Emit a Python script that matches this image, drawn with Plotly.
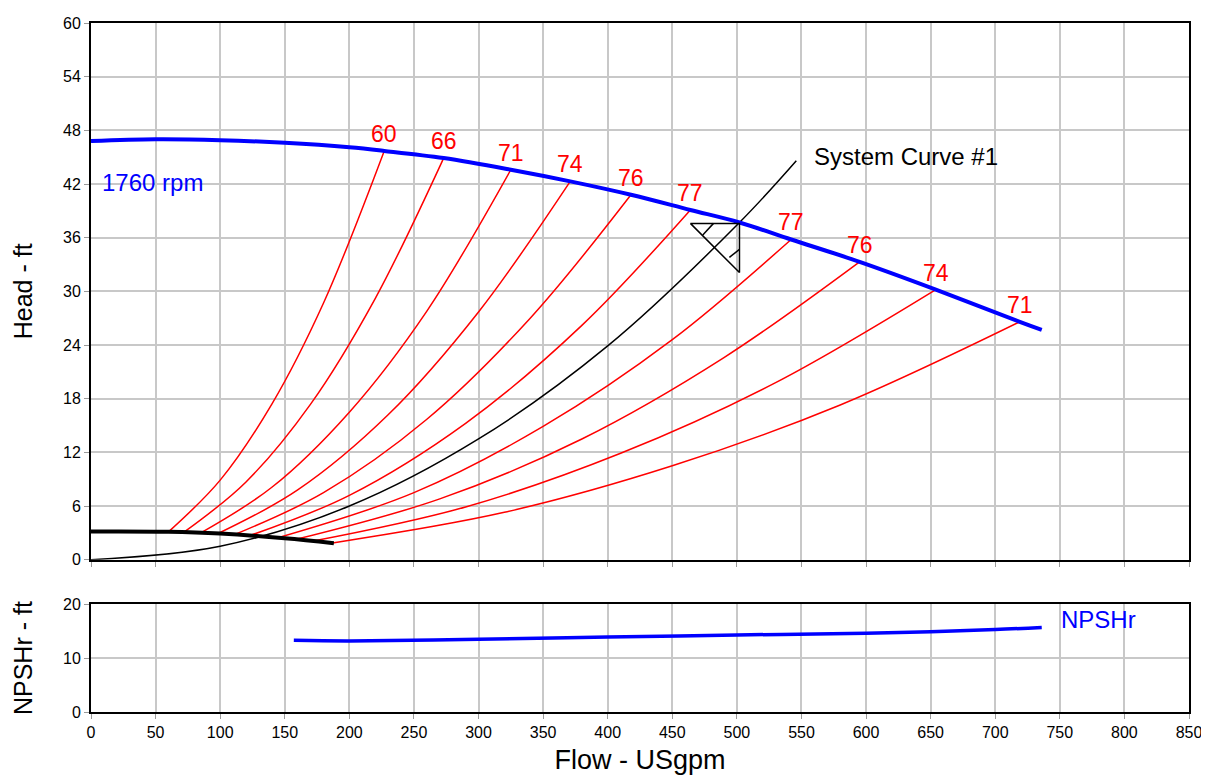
import plotly.graph_objects as go

FONT = "Liberation Sans, Arial, sans-serif"

flow_ticks = list(range(0, 851, 50))
head_ticks = list(range(0, 61, 6))
npsh_ticks = [0, 10, 20]

# Pump head curve at 1760 rpm
pump_q = [0, 50, 100, 150, 200, 227, 273, 325, 371, 418, 464, 502, 542, 595, 654, 719, 736]
pump_h = [46.8, 47.0, 46.9, 46.6, 46.1, 45.7, 44.9, 43.6, 42.3, 40.8, 39.1, 37.7, 35.8, 33.3, 30.2, 26.6, 25.7]

# Lower boundary (thick black)
min_q = [0, 60, 100, 150, 188]
min_h = [3.15, 3.12, 2.92, 2.4, 1.85]

# Iso-efficiency lines (red)
eff_labels = ["60", "66", "71", "74", "76", "77", "77", "76", "74", "71"]
eff_q = [
    [60, 100, 140, 180, 227],
    [72, 120, 170, 220, 273],
    [85, 140, 200, 260, 325],
    [98, 160, 230, 300, 371],
    [111, 180, 260, 340, 418],
    [122, 200, 290, 380, 464],
    [144, 250, 350, 450, 542],
    [158, 270, 380, 490, 595],
    [171, 290, 410, 530, 654],
    [187, 320, 450, 580, 719],
]
eff_h = [
    [3.12, 8.9, 17.4, 28.7, 45.7],
    [3.08, 8.7, 17.4, 29.2, 44.9],
    [3.0, 8.1, 16.5, 27.8, 43.6],
    [2.9, 7.8, 16.2, 27.7, 42.3],
    [2.8, 7.5, 15.7, 27.0, 40.8],
    [2.65, 7.2, 15.25, 26.2, 39.1],
    [2.43, 7.5, 14.9, 24.6, 35.8],
    [2.25, 6.8, 13.5, 22.6, 33.3],
    [2.06, 5.9, 11.9, 19.8, 30.2],
    [1.88, 5.3, 10.5, 17.3, 26.6],
]

# System curve #1
sys_q = [0, 100, 200, 300, 400, 502, 546]
sys_h = [0, 1.5, 6.0, 13.5, 23.9, 37.7, 44.6]

# Operating point marker
op_tri_q = [464, 502, 502, 464]
op_tri_h = [37.6, 37.6, 32.1, 37.6]
op_hatch1_q = [473.6, 481.9]
op_hatch1_h = [36.3, 37.6]
op_hatch2_q = [494.2, 502]
op_hatch2_h = [33.8, 34.7]

# NPSHr
npsh_q = [157, 200, 300, 400, 500, 600, 650, 700, 736]
npsh_h = [13.3, 13.2, 13.5, 13.9, 14.3, 14.6, 14.9, 15.3, 15.7]

fig = go.Figure()

for q, h in zip(eff_q, eff_h):
    fig.add_trace(go.Scatter(x=q, y=h, mode="lines", line=dict(color="#ff0000", width=1.5, shape="spline"),
                             xaxis="x", yaxis="y", showlegend=False, hoverinfo="skip"))

fig.add_trace(go.Scatter(x=sys_q, y=sys_h, mode="lines", line=dict(color="black", width=1.5, shape="spline"),
                         xaxis="x", yaxis="y", showlegend=False))
fig.add_trace(go.Scatter(x=min_q, y=min_h, mode="lines", line=dict(color="black", width=4, shape="spline"),
                         xaxis="x", yaxis="y", showlegend=False))
fig.add_trace(go.Scatter(x=pump_q, y=pump_h, mode="lines", line=dict(color="#0000ff", width=4, shape="spline"),
                         xaxis="x", yaxis="y", showlegend=False))
for q, h in [(op_tri_q, op_tri_h), (op_hatch1_q, op_hatch1_h), (op_hatch2_q, op_hatch2_h)]:
    fig.add_trace(go.Scatter(x=q, y=h, mode="lines", line=dict(color="black", width=1.5),
                             xaxis="x", yaxis="y", showlegend=False))

fig.add_trace(go.Scatter(x=npsh_q, y=npsh_h, mode="lines", line=dict(color="#0000ff", width=3.5, shape="spline"),
                         xaxis="x2", yaxis="y2", showlegend=False))

annotations = []
for lab, q, h in zip(eff_labels, eff_q, eff_h):
    annotations.append(dict(x=q[-1], y=h[-1], xref="x", yref="y", text=lab, showarrow=False,
                            yshift=17, font=dict(color="#ff0000", size=23, family=FONT)))
annotations.append(dict(x=7, y=42.2, xref="x", yref="y", text="1760 rpm", showarrow=False,
                        xanchor="left", yanchor="middle", font=dict(color="#0000ff", size=24, family=FONT)))
annotations.append(dict(x=558, y=45.1, xref="x", yref="y", text="System Curve #1", showarrow=False,
                        xanchor="left", yanchor="middle", font=dict(color="black", size=24, family=FONT)))
annotations.append(dict(x=749, y=17.2, xref="x2", yref="y2", text="NPSHr", showarrow=False,
                        xanchor="left", yanchor="middle", font=dict(color="#0000ff", size=24, family=FONT)))

axis_common = dict(showline=True, mirror=True, linecolor="black", linewidth=2,
                   showgrid=True, gridcolor="#c8c8c8", gridwidth=1.5, zeroline=False,
                   ticks="outside", ticklen=5, tickcolor="#9a9a9a",
                   tickfont=dict(size=16, color="black", family=FONT))

fig.update_layout(
    width=1201, height=774,
    margin=dict(l=83, r=19, t=7, b=70),
    plot_bgcolor="white", paper_bgcolor="white",
    font=dict(family=FONT, color="black"),
    annotations=annotations,
    xaxis=dict(domain=[0, 1], anchor="y", range=[0, 850], tickvals=flow_ticks, showticklabels=False, **axis_common),
    yaxis=dict(domain=[0.221, 1], anchor="x", range=[0, 60], tickvals=head_ticks,
               title=dict(text="Head - ft", font=dict(size=25, family=FONT), standoff=23), **axis_common),
    xaxis2=dict(domain=[0, 1], anchor="y2", range=[0, 850], tickvals=flow_ticks, matches="x",
                title=dict(text="Flow - USgpm", font=dict(size=27, family=FONT), standoff=10), **axis_common),
    yaxis2=dict(domain=[0, 0.1564], anchor="x2", range=[0, 20], tickvals=npsh_ticks,
                title=dict(text="NPSHr - ft", font=dict(size=25, family=FONT), standoff=23), **axis_common),
)

fig.write_html("out.html")
